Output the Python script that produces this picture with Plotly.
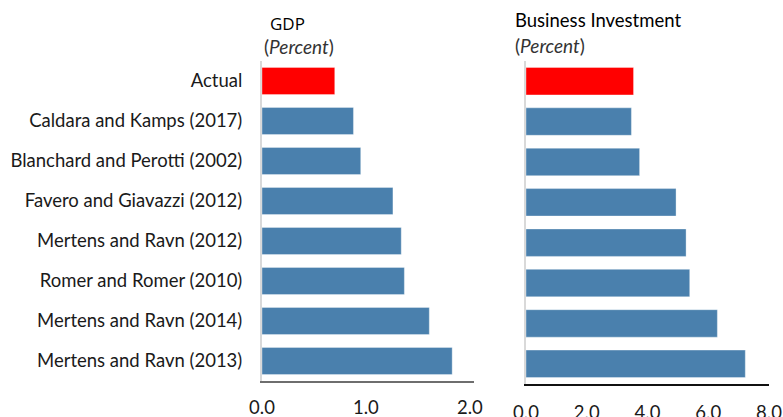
import plotly.graph_objects as go

categories = ["Actual", "Caldara and Kamps (2017)", "Blanchard and Perotti (2002)",
              "Favero and Giavazzi (2012)", "Mertens and Ravn (2012)",
              "Romer and Romer (2010)", "Mertens and Ravn (2014)", "Mertens and Ravn (2013)"]
gdp_values = [0.70, 0.88, 0.95, 1.26, 1.34, 1.37, 1.61, 1.83]
inv_values = [3.54, 3.47, 3.74, 4.94, 5.27, 5.39, 6.30, 7.22]
gdp_ticks = [0.0, 1.0, 2.0]
inv_ticks = [0.0, 2.0, 4.0, 6.0, 8.0]

colors = ["#ff0000"] + ["#4a80ad"] * (len(categories) - 1)

W, H = 783, 417
FONT = "Lato, Open Sans, sans-serif"
FS = 18.5

fig = go.Figure()
fig.add_trace(go.Bar(x=gdp_values, y=categories, orientation="h",
                     marker=dict(color=colors, line=dict(color="rgba(255,255,255,0.35)", width=1)),
                     xaxis="x", yaxis="y", hoverinfo="skip"))
fig.add_trace(go.Bar(x=inv_values, y=categories, orientation="h",
                     marker=dict(color=colors, line=dict(color="rgba(255,255,255,0.35)", width=1)),
                     xaxis="x2", yaxis="y2", hoverinfo="skip"))

ydom = [1 - 381 / H, 1 - 61 / H]

fig.update_layout(
    width=W, height=H, margin=dict(l=0, r=0, t=0, b=0, autoexpand=False),
    paper_bgcolor="white", plot_bgcolor="white", showlegend=False,
    bargap=0.32,
    font=dict(family=FONT, size=FS, color="#1a1a1a"),
    xaxis=dict(domain=[262 / W, 474 / W], range=[0, 2.04], tickvals=gdp_ticks,
               ticktext=[f"{v:.1f}" for v in gdp_ticks], showgrid=False, zeroline=False,
               showline=True, linecolor="#6e6e6e", linewidth=2, ticks="", ticklabelstandoff=9,
               anchor="y", tickfont=dict(size=FS, color="#1a1a1a"), automargin=False),
    yaxis=dict(domain=ydom, autorange="reversed", showgrid=False, zeroline=False,
               showline=True, linecolor="#d9d9d9", linewidth=2, ticks="", ticklabelstandoff=14,
               anchor="x", tickfont=dict(size=FS, color="#1a1a1a"), automargin=False),
    xaxis2=dict(domain=[526 / W, 769 / W], range=[0, 8.0], tickvals=inv_ticks,
                ticktext=[f"{v:.1f}" for v in inv_ticks], showgrid=False, zeroline=False,
                showline=True, linecolor="#111111", linewidth=2, ticks="", ticklabelstandoff=11,
                anchor="y2", tickfont=dict(size=FS, color="#1a1a1a"), automargin=False),
    yaxis2=dict(domain=[1 - 384 / H, 1 - 61 / H], autorange="reversed", showgrid=False,
                zeroline=False, showline=True, linecolor="#d9d9d9", linewidth=2,
                showticklabels=False, anchor="x2", automargin=False),
)

fig.add_annotation(x=268 / W, y=1 - 24 / H, xref="paper", yref="paper", xanchor="left",
                   yanchor="middle", showarrow=False, text="GDP",
                   font=dict(family="Open Sans", size=17, color="#000000"))
fig.add_annotation(x=262 / W, y=1 - 47 / H, xref="paper", yref="paper", xanchor="left",
                   yanchor="middle", showarrow=False, text="(<i>Percent</i>)",
                   font=dict(family=FONT, size=19, color="#333333"))
fig.add_annotation(x=513 / W, y=1 - 20 / H, xref="paper", yref="paper", xanchor="left",
                   yanchor="middle", showarrow=False, text="Business Investment",
                   font=dict(family=FONT, size=FS, color="#000000"))
fig.add_annotation(x=513 / W, y=1 - 45 / H, xref="paper", yref="paper", xanchor="left",
                   yanchor="middle", showarrow=False, text="(<i>Percent</i>)",
                   font=dict(family=FONT, size=19, color="#333333"))

fig.write_html("out.html", config={"displayModeBar": False},
               post_script="document.body.style.margin='0';document.body.style.overflow='hidden';")
